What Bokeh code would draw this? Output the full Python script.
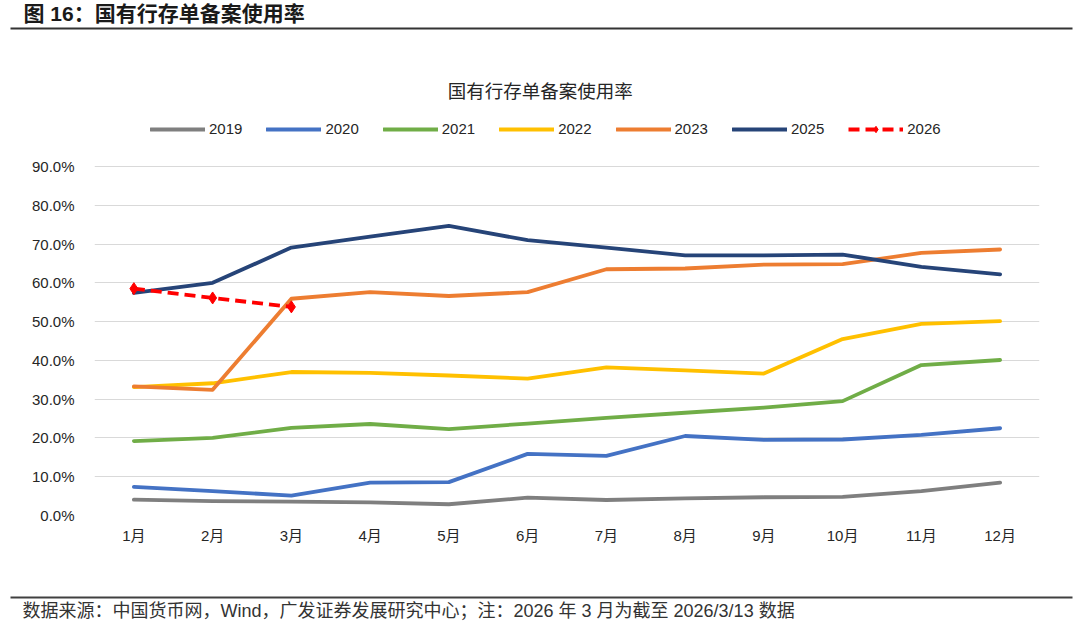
from bokeh.plotting import figure
from bokeh.layouts import column
from bokeh.models import (Range1d, FixedTicker, PrintfTickFormatter, Legend, LegendItem)
from bokeh.core.properties import value
from bokeh.embed import file_html
from bokeh.resources import INLINE

# ---------------- data ----------------
months = ["1月", "2月", "3月", "4月", "5月", "6月", "7月", "8月", "9月", "10月", "11月", "12月"]
month_idx = list(range(1, 13))
v2019 = [4.1, 3.7, 3.6, 3.4, 2.9, 4.6, 4.0, 4.4, 4.7, 4.8, 6.3, 8.5]
v2020 = [7.4, 6.3, 5.1, 8.5, 8.6, 15.9, 15.4, 20.5, 19.5, 19.6, 20.8, 22.5]
v2021 = [19.2, 20.0, 22.6, 23.6, 22.3, 23.7, 25.2, 26.5, 27.8, 29.5, 38.8, 40.1]
v2022 = [33.1, 34.1, 37.0, 36.8, 36.1, 35.3, 38.2, 37.4, 36.6, 45.5, 49.4, 50.1]
v2023 = [33.3, 32.4, 55.9, 57.6, 56.6, 57.6, 63.5, 63.7, 64.7, 64.8, 67.7, 68.6]
v2025 = [57.4, 60.0, 69.1, 71.9, 74.7, 71.0, 69.1, 67.1, 67.1, 67.3, 64.1, 62.2]
v2026 = [58.5, 56.1, 53.8]
y_ticks = [0, 10, 20, 30, 40, 50, 60, 70, 80, 90]

header_text = "图 16：国有行存单备案使用率"
chart_title = "国有行存单备案使用率"
footer_text = "数据来源：中国货币网，Wind，广发证券发展研究中心；注：2026 年 3 月为截至 2026/3/13 数据"

series = [
    ("2019", v2019, "#7F7F7F"),
    ("2020", v2020, "#4472C4"),
    ("2021", v2021, "#70AD47"),
    ("2022", v2022, "#FFC000"),
    ("2023", v2023, "#ED7D31"),
    ("2025", v2025, "#264478"),
]

LAT = "Liberation Sans, Arial, Noto Sans CJK SC"
CJK = "Noto Sans CJK SC"
W = 1075

# ---------------- header ----------------
HH = 38
hdr = figure(width=W, height=HH, x_range=Range1d(0, W), y_range=Range1d(0, HH),
             x_axis_type=None, y_axis_type=None, toolbar_location=None,
             output_backend="svg", min_border=0, outline_line_color=None,
             frame_align=False)
hdr.xgrid.visible = False
hdr.ygrid.visible = False
hdr.text(x=[23], y=[HH - 12.5], text=[header_text], text_font=value(LAT), text_font_style="bold",
         text_font_size="21px", text_color="#1a1a1a", text_baseline="middle", text_align="left")
hdr.line(x=[10, 1072], y=[HH - 28, HH - 28], line_color="#333333", line_width=2)

# ---------------- main chart ----------------
px_per_unit = 349 / 90.0
frame_h = 477
p = figure(width=W, height=553, x_range=Range1d(0.5, 12.5),
           y_range=Range1d(0, frame_h / px_per_unit),
           toolbar_location=None, output_backend="svg",
           min_border_left=94, min_border_right=W - 1039, min_border_top=0, min_border_bottom=76,
           outline_line_color=None, frame_align=False)
p.xgrid.visible = False
p.ygrid.ticker = FixedTicker(ticks=y_ticks)
p.ygrid.grid_line_color = "#D9D9D9"
p.ygrid.grid_line_width = 1.2

p.yaxis.ticker = FixedTicker(ticks=y_ticks)
p.yaxis.formatter = PrintfTickFormatter(format="%.1f%%")
p.yaxis.axis_line_color = None
p.yaxis.major_tick_line_color = None
p.yaxis.minor_tick_line_color = None
p.yaxis.major_label_standoff = 14
p.yaxis.major_label_text_font = LAT
p.yaxis.major_label_text_font_size = "15px"
p.yaxis.major_label_text_color = "#262626"

p.xaxis.ticker = FixedTicker(ticks=month_idx)
p.xaxis.major_label_overrides = {i: m for i, m in zip(month_idx, months)}
p.xaxis.axis_line_color = None
p.xaxis.major_tick_line_color = None
p.xaxis.minor_tick_line_color = None
p.xaxis.major_label_standoff = 5
p.xaxis.major_label_text_font = LAT
p.xaxis.major_label_text_font_size = "15px"
p.xaxis.major_label_text_color = "#262626"

items = []
for name, vals, col in series:
    r = p.line(month_idx, vals, line_color=col, line_width=3.8, line_cap="round", line_join="round")
    items.append(LegendItem(label=name, renderers=[r]))

r26l = p.line(month_idx[:len(v2026)], v2026, line_color="#FF0000", line_width=3.8, line_dash="11 6")
r26m = p.scatter(month_idx[:len(v2026)], v2026, marker="diamond", size=12,
                 fill_color="#FF0000", line_color="#FF0000")
items.append(LegendItem(label="2026", renderers=[r26l, r26m]))

# chart title sits 425.5 px above the 0% line
p.text(x=[6.16], y=[425.5 / px_per_unit],
       text=[chart_title], text_font=value(CJK), text_font_size="18.5px",
       text_color="#262626", text_align="center", text_baseline="middle")

legend = Legend(items=items, orientation="horizontal", location=(56, 378),
                glyph_width=55, glyph_height=16, label_height=16, label_standoff=4,
                spacing=24, padding=0, margin=0, border_line_color=None,
                background_fill_alpha=0, label_text_font=LAT,
                label_text_font_size="15px", label_text_color="#262626")
p.add_layout(legend)

# ---------------- footer ----------------
FH = 36
ftr = figure(width=W, height=FH, x_range=Range1d(0, W), y_range=Range1d(0, FH),
             x_axis_type=None, y_axis_type=None, toolbar_location=None,
             output_backend="svg", min_border=0, outline_line_color=None,
             frame_align=False)
ftr.xgrid.visible = False
ftr.ygrid.visible = False
ftr.line(x=[10, 1072], y=[FH - 6, FH - 6], line_color="#404040", line_width=2)
ftr.text(x=[22], y=[FH - 19], text=[footer_text], text_font=value(LAT), text_font_size="18px",
         text_color="#333333", text_baseline="middle", text_align="left")

layout = column(hdr, p, ftr, spacing=0)
open("out.html", "w").write(file_html(layout, INLINE))
